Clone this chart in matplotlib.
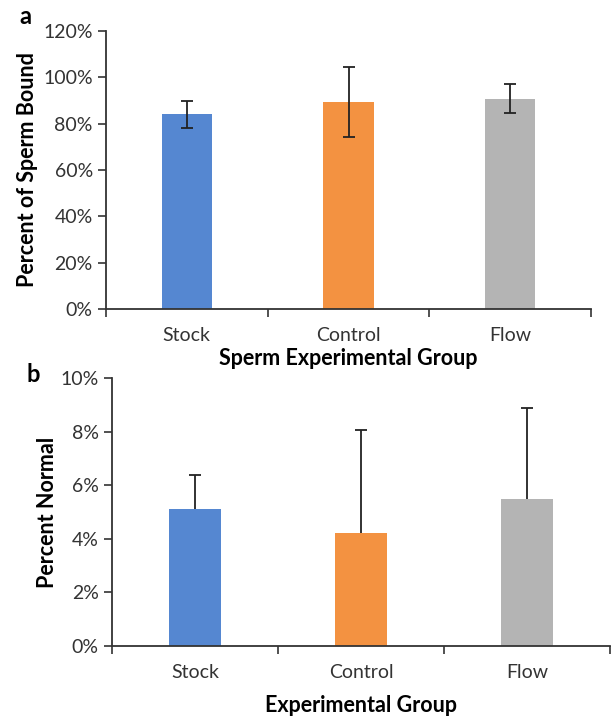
import numpy as np
import matplotlib
matplotlib.use("Agg")
import matplotlib.pyplot as plt
from matplotlib.ticker import PercentFormatter, FixedLocator

plt.rcParams['font.family'] = ['Lato', 'DejaVu Sans']

# ---- data ----
groups = ["Stock", "Control", "Flow"]
colors = ["#5587D1", "#F39241", "#B4B4B4"]

bound_mean = [84.0, 89.3, 90.8]      # panel a, percent of sperm bound
bound_err = [5.9, 15.0, 6.2]

normal_mean = [5.11, 4.23, 5.47]     # panel b, percent normal
normal_err_up = [1.27, 3.84, 3.42]

W, H = 611, 716
fig = plt.figure(figsize=(W / 100, H / 100), dpi=100)


def px_axes(left, top, right, bottom):
    return fig.add_axes([left / W, 1 - bottom / H, (right - left) / W, (bottom - top) / H])


def style(ax, ymax, ystep):
    x = np.arange(len(groups))
    ax.set_xlim(-0.5, len(groups) - 0.5)
    ax.set_ylim(0, ymax)
    ax.set_yticks(np.arange(0, ymax + 0.001, ystep))
    ax.yaxis.set_major_formatter(PercentFormatter(decimals=0))
    ax.set_xticks(x)
    ax.set_xticklabels(groups, fontsize=14, color="#333333")
    ax.xaxis.set_minor_locator(FixedLocator(np.arange(-0.5, len(groups), 1.0)))
    ax.tick_params(axis="x", which="major", length=0, pad=13)
    ax.tick_params(axis="x", which="minor", length=6, width=1.2, direction="out", color="#333333")
    ax.tick_params(axis="y", length=6, width=1.2, labelsize=14, labelcolor="#333333", color="#333333")
    for s in ["top", "right"]:
        ax.spines[s].set_visible(False)
    for s in ["left", "bottom"]:
        ax.spines[s].set_linewidth(1.3)
        ax.spines[s].set_color("#333333")
    return x


# ---- panel a ----
ax1 = px_axes(106, 31, 591, 309)
x = style(ax1, 120, 20)
ax1.bar(x, bound_mean, width=0.31, color=colors, zorder=2)
ax1.errorbar(x, bound_mean, yerr=bound_err, fmt="none", ecolor="#222222",
             elinewidth=1.3, capsize=4, capthick=1.3, zorder=3)
ax1.set_ylabel("Percent of Sperm Bound", fontsize=15.5, fontweight="bold", labelpad=4)
ax1.set_xlabel("Sperm Experimental Group", fontsize=15.5, fontweight="bold", labelpad=3)
fig.text(25 / W, 1 - 16 / H, "a", fontsize=17, fontweight="bold", va="center", ha="center")

# ---- panel b ----
ax2 = px_axes(112, 378, 610, 646)
x = style(ax2, 10, 2)
ax2.bar(x, normal_mean, width=0.31, color=colors, zorder=2)
eb = ax2.errorbar(x, normal_mean, yerr=[[0] * len(groups), normal_err_up], fmt="none",
                  ecolor="#222222", elinewidth=1.3, capsize=4, capthick=1.3, zorder=1)
eb[1][0].set_visible(False)  # no lower cap, only the upper half is drawn
ax2.set_ylabel("Percent Normal", fontsize=15.5, fontweight="bold", labelpad=2)
ax2.set_xlabel("Experimental Group", fontsize=15.5, fontweight="bold", labelpad=10)
fig.text(33 / W, 1 - 374 / H, "b", fontsize=17, fontweight="bold", va="center", ha="center")

fig.savefig("out.png", dpi=100)
